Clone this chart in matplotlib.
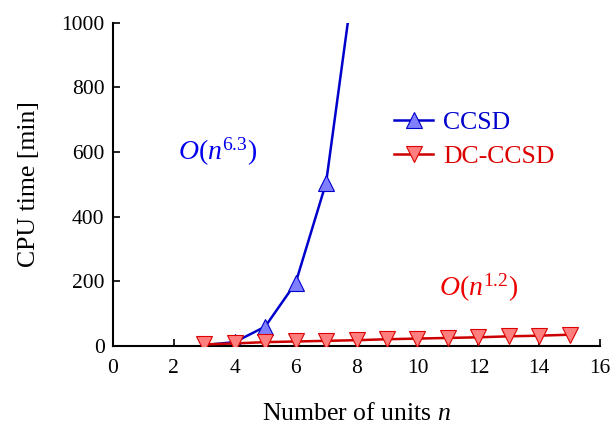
import matplotlib
matplotlib.use("Agg")
import matplotlib.pyplot as plt

n_ccsd = [3, 4, 5, 6, 7, 8]
t_ccsd = [3, 12, 60, 195, 505, 1200]
n_dc = [3, 4, 5, 6, 7, 8, 9, 10, 11, 12, 13, 14, 15]
t_dc = [5, 8, 12, 14, 16, 18, 21, 23, 25, 27, 30, 32, 35]
xticks = [0, 2, 4, 6, 8, 10, 12, 14, 16]
yticks = [0, 200, 400, 600, 800, 1000]

plt.rcParams['font.family'] = ['Liberation Serif', 'DejaVu Serif']
plt.rcParams['mathtext.fontset'] = 'custom'
plt.rcParams['mathtext.rm'] = 'Liberation Serif'
plt.rcParams['mathtext.it'] = 'Liberation Serif:italic'

fig = plt.figure(figsize=(6.1, 4.23), dpi=100)
ax = fig.add_axes([0.185, 0.182, 0.799, 0.764])

ax.plot(n_ccsd, t_ccsd, color='#0000cc', lw=1.8, marker='^', ms=11,
        mfc='#7f7fff', mec='#0000cc', mew=0.8, label='CCSD', zorder=2)
ax.plot(n_dc, t_dc, color='#cc0000', lw=1.8, marker='v', ms=11,
        mfc='#ff7f7f', mec='#dd0000', mew=0.8, label='DC-CCSD', zorder=3)

ax.set_xlim(0, 16)
ax.set_ylim(0, 1000)
ax.set_xticks(xticks)
ax.set_yticks(yticks)
ax.tick_params(direction='in', labelsize=15.5, length=5, width=1.2)
ax.tick_params(axis='x', pad=9)
ax.tick_params(axis='y', pad=6)
for s in ['top', 'right']:
    ax.spines[s].set_visible(False)
for s in ['left', 'bottom']:
    ax.spines[s].set_linewidth(1.5)

ax.set_xlabel('Number of units $n$', fontsize=18.5, labelpad=18)
ax.set_ylabel('CPU time [min]', fontsize=18.5, labelpad=15)

ax.text(2.15, 600, r'$O(n^{6.3})$', color='#0000ee', fontsize=20, va='center', ha='left')
ax.text(10.7, 180, r'$O(n^{1.2})$', color='#ee0000', fontsize=20, va='center', ha='left')

leg = ax.legend(loc='upper left', bbox_to_anchor=(0.53, 0.80), frameon=False,
                fontsize=18.5, handlelength=1.5, handletextpad=0.4, labelspacing=0.45)
for t, c in zip(leg.get_texts(), ['#0000cc', '#dd0000']):
    t.set_color(c)

fig.savefig('out.png', dpi=100)
